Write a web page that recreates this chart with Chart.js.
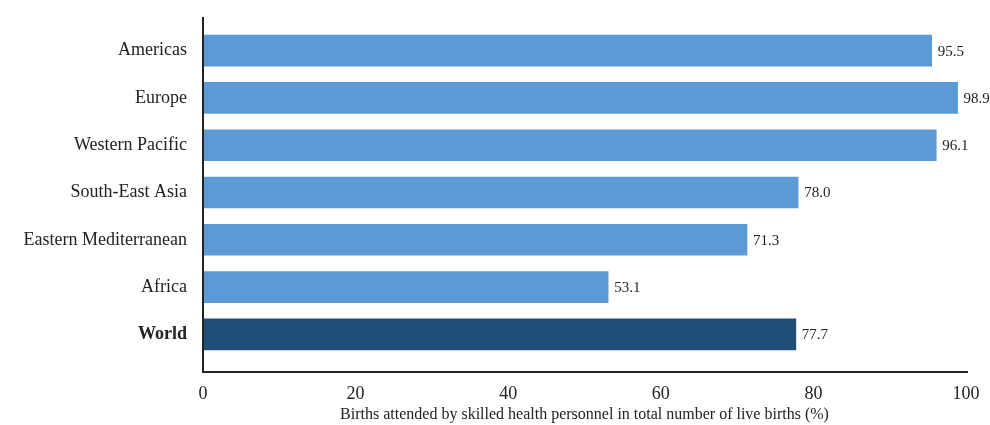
<!DOCTYPE html>
<html>
<head>
<meta charset="utf-8">
<script src="https://cdn.jsdelivr.net/npm/chart.js@4.4.0/dist/chart.umd.min.js"></script>
<style>
  html, body { margin:0; padding:0; background:#fff; }
  #wrap { width:990px; height:425px; position:relative; }
</style>
</head>
<body>
<div id="wrap"><canvas id="birthsChart"></canvas></div>
<script>
// ===== Data =====
const regions = ['Americas','Europe','Western Pacific','South-East Asia','Eastern Mediterranean','Africa','World'];
const attendedPct = [95.5, 98.9, 96.1, 78.0, 71.3, 53.1, 77.7];
const xTicks = [0, 20, 40, 60, 80, 100];

const LIGHT = '#5b9bd5';
const DARK = '#1f4e79';
const FONT = "'Liberation Serif', 'Times New Roman', serif";

// value labels at the end of each bar
const valueLabels = {
  id:'valueLabels',
  afterDatasetsDraw(chart){
    const ctx = chart.ctx;
    const meta = chart.getDatasetMeta(0);
    ctx.save();
    ctx.font = '15px ' + FONT;
    ctx.fillStyle = '#222';
    ctx.textBaseline = 'middle';
    ctx.textAlign = 'left';
    meta.data.forEach((bar, i) => {
      ctx.fillText(attendedPct[i].toFixed(1), bar.x + 6, bar.y + 1);
    });
    ctx.restore();
  }
};

// L-shaped axis lines, a bit longer than the plot area like the original
const axisLines = {
  id:'axisLines',
  afterDraw(chart){
    const {ctx, chartArea:a} = chart;
    ctx.save();
    ctx.strokeStyle = '#222';
    ctx.lineWidth = 2;
    ctx.beginPath();
    ctx.moveTo(a.left, a.top - 10);
    ctx.lineTo(a.left, a.bottom + 14);
    ctx.lineTo(a.right + 2, a.bottom + 14);
    ctx.stroke();
    ctx.restore();
  }
};

const ctx = document.getElementById('birthsChart').getContext('2d');
new Chart(ctx, {
  type:'bar',
  data:{
    labels: regions,
    datasets:[{
      data: attendedPct,
      backgroundColor: regions.map(r => r === 'World' ? DARK : LIGHT),
      borderWidth:0,
      barThickness:31
    }]
  },
  options:{
    indexAxis:'y',
    responsive:true,
    maintainAspectRatio:false,
    animation:false,
    layout:{ padding:{ top:27, right:24, bottom:0, left:0 } },
    plugins:{ legend:{display:false}, tooltip:{enabled:false} },
    scales:{
      x:{
        min:0, max:100,
        afterBuildTicks: s => { s.ticks = xTicks.map(v => ({value:v})); },
        afterFit: s => { s.height = 67; },
        // hidden tick marks: tickLength only pushes the labels down
        grid:{ display:false, drawTicks:true, tickLength:22 },
        border:{ display:false },
        ticks:{ padding:3, color:'#222', font:{ family:FONT, size:18 } },
        title:{
          display:true,
          text:'Births attended by skilled health personnel in total number of live births (%)',
          color:'#222',
          font:{ family:FONT, size:16 },
          padding:{ top:0, bottom:1 }
        }
      },
      y:{
        afterFit: s => { s.width = 203; },
        grid:{ display:false, drawTicks:false },
        border:{ display:false },
        ticks:{
          padding:16,
          color:'#222',
          font: c => ({ family:FONT, size:18, weight: regions[c.index] === 'World' ? 'bold' : 'normal' })
        }
      }
    }
  },
  plugins:[valueLabels, axisLines]
});
</script>
</body>
</html>
